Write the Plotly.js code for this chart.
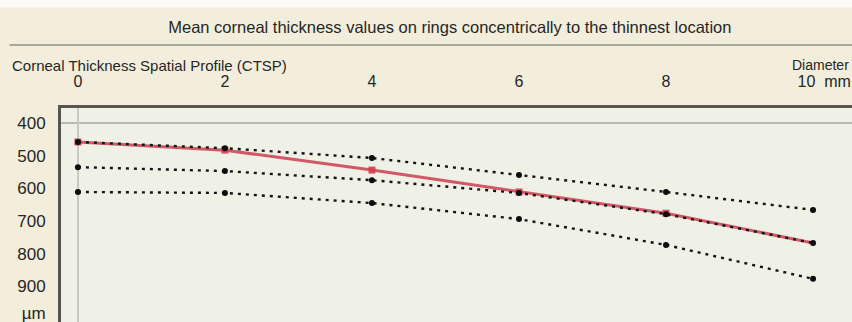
<!DOCTYPE html>
<html>
<head>
<meta charset="utf-8">
<script src="https://cdn.plot.ly/plotly-3.0.1.min.js"></script>
<style>html,body{margin:0;padding:0;background:#f2eedb;}#chart{width:852px;height:322px;}</style>
</head>
<body>
<div id="chart"></div>
<script>
// Diameter positions (mm)
var diameters = [0, 2, 4, 6, 8, 10];
// Normative bands (µm)
var upperBand = [458, 477, 507, 559, 611, 666];
var middleBand = [535, 547, 575, 614, 679, 767];
var lowerBand = [611, 614, 645, 694, 773, 877];
// Patient profile (µm)
var patient = [458, 483, 544, 611, 676, 767];
var patientMarked = [458, 483, 544, 611, 676, null];
// Axis labels
var xTickVals = [0, 2, 4, 6, 8, 10];
var xTickText = ['0', '2', '4', '6', '8', '\u00a0\u00a0\u00a0\u00a0\u00a010\u00a0\u00a0mm'];
var yTickVals = [400, 500, 600, 700, 800, 900, 981];
var yTickText = ['400', '500', '600', '700', '800', '900', 'µm'];

var dotLine = {color: '#151515', width: 2.4, dash: '3px,5px'};
var dotMarker = {color: '#0d0d0d', size: 6};

var traces = [
  {x: diameters, y: patient, mode: 'lines', line: {color: 'rgba(205,60,80,0.85)', width: 3}, hoverinfo: 'skip'},
  {x: diameters, y: patientMarked, mode: 'markers', marker: {color: 'rgba(215,60,80,0.9)', size: 7, symbol: 'square'}, hoverinfo: 'skip'},
  {x: diameters, y: upperBand, mode: 'lines+markers', line: dotLine, marker: dotMarker},
  {x: diameters, y: middleBand, mode: 'lines+markers', line: dotLine, marker: dotMarker},
  {x: diameters, y: lowerBand, mode: 'lines+markers', line: dotLine, marker: dotMarker}
];

var txt = {family: 'Liberation Sans, Arial, sans-serif', color: '#262626'};

var layout = {
  width: 852, height: 322,
  margin: {l: 61, r: 0, t: 108, b: 0},
  paper_bgcolor: '#f2eedb',
  plot_bgcolor: '#eff0e6',
  showlegend: false,
  title: {
    text: 'Mean corneal thickness values on rings concentrically to the thinnest location',
    font: {family: txt.family, color: txt.color, size: 16.5},
    x: 0.528, xanchor: 'center', y: 0.916, yanchor: 'middle'
  },
  xaxis: {
    range: [-0.23, 10.53], side: 'top',
    tickvals: xTickVals, ticktext: xTickText,
    ticks: '', ticklabelstandoff: 12, ticklabeloverflow: 'allow',
    tickfont: {family: txt.family, color: txt.color, size: 16},
    showgrid: false,
    zeroline: true, zerolinecolor: '#c9cac2', zerolinewidth: 2.5,
    showline: true, linecolor: '#57554d', linewidth: 3
  },
  yaxis: {
    range: [1009, 354],
    tickvals: yTickVals, ticktext: yTickText,
    ticks: '', ticklabelstandoff: 9, ticklabeloverflow: 'allow',
    tickfont: {family: txt.family, color: txt.color, size: 17},
    showgrid: false, zeroline: false,
    showline: true, linecolor: '#57554d', linewidth: 3
  },
  shapes: [
    {type: 'line', xref: 'paper', yref: 'y', x0: 0, x1: 1, y0: 400, y1: 400, line: {color: '#b9bab2', width: 2}, layer: 'below'},
    {type: 'line', xref: 'paper', yref: 'paper', x0: -0.065, x1: 1, y0: 1.2944, y1: 1.2944, line: {color: '#a9a898', width: 2}},
    {type: 'rect', xref: 'paper', yref: 'paper', x0: -0.08, x1: 1.01, y0: 1.47, y1: 1.51, fillcolor: '#fbfaf4', line: {width: 0}}
  ],
  annotations: [
    {text: 'Corneal Thickness Spatial Profile (CTSP)', xref: 'paper', yref: 'paper', x: -0.0645, y: 1.2009, xanchor: 'left', yanchor: 'middle', showarrow: false, font: {family: txt.family, color: txt.color, size: 15}},
    {text: 'Diameter', xref: 'paper', yref: 'paper', x: 0.9985, y: 1.2009, xanchor: 'right', yanchor: 'middle', showarrow: false, font: {family: txt.family, color: txt.color, size: 14}}
  ]
};

Plotly.newPlot('chart', traces, layout, {staticPlot: true, displayModeBar: false});
</script>
</body>
</html>
